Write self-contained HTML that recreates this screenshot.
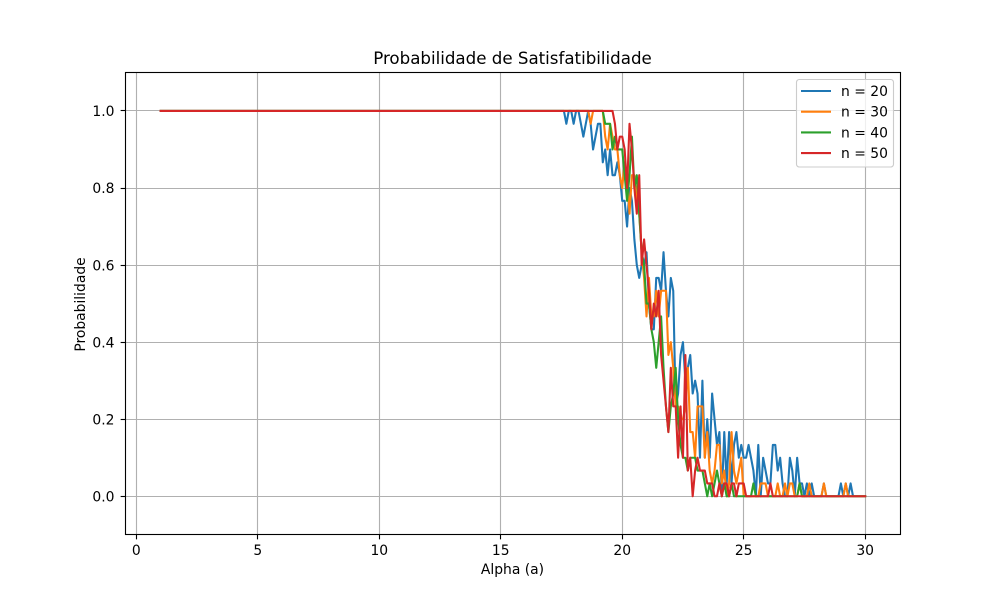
<!DOCTYPE html>
<html>
<head>
<meta charset="utf-8">
<title>Probabilidade de Satisfatibilidade</title>
<style>
html,body{margin:0;padding:0;background:#fff;}
svg{display:block;font-family:"DejaVu Sans","Liberation Sans",sans-serif;}
</style>
</head>
<body>
<svg id="chart" xmlns="http://www.w3.org/2000/svg" width="1000" height="600" viewBox="0 0 1000 600"></svg>
<script>
// Data: satisfied runs out of 30 per alpha, starting at alpha = 17.5 in steps of 0.1.
const firstAlpha = 1;
const detailStartAlpha = 17.5;
const alphaStep = 0.1;
const lastAlpha = 30;
const runsPerPoint = 30;
const xTicks = [0, 5, 10, 15, 20, 25, 30];
const yTicks = [0.0, 0.2, 0.4, 0.6, 0.8, 1.0];
const seriesNames = ["n = 20", "n = 30", "n = 40", "n = 50"];
const seriesColors = ["#1f77b4", "#ff7f0e", "#2ca02c", "#d62728"];
const countsN20 = [30,30,29,30,30,29,30,30,29,28,29,30,29,27,28,29,29,26,27,25,27,25,25,26,25,23,23,21,24,23,20,18,17,18,18,19,15,13,13,17,17,16,19,16,14,17,16,7,8,11,12,9,10,11,8,9,8,3,9,3,6,3,8,6,4,5,0,5,1,5,1,4,5,3,4,3,3,4,3,2,0,4,0,3,2,1,1,4,4,2,3,1,0,0,3,2,0,3,1,1,0,1,0,1,0,0,0,0,1,0,0,0,0,0,0,1,0,1,0,1,0,0,0,0,0,0];
const countsN30 = [30,30,30,30,30,30,30,30,30,30,30,30,29,30,30,30,30,30,28,27,29,28,27,27,25,24,26,25,22,25,25,23,22,19,17,14,17,14,14,16,14,16,16,16,11,12,10,7,7,6,6,7,10,5,5,3,7,7,7,3,5,2,1,2,4,4,1,2,0,1,5,2,1,2,3,0,0,0,0,0,0,0,1,1,1,0,0,0,0,1,0,0,1,0,1,1,0,0,1,0,0,0,1,0,0,0,0,0,1,0,0,0,0,0,0,0,0,1,0,0,0,0,0,0,0,0];
const countsN40 = [30,30,30,30,30,30,30,30,30,30,30,30,30,30,30,30,30,30,29,29,29,27,28,27,27,27,25,23,25,28,24,25,22,19,18,15,15,13,12,10,12,14,10,7,5,7,8,10,6,4,3,3,2,3,3,3,2,2,2,1,0,1,0,1,2,1,0,1,0,0,1,0,0,0,0,0,0,0,0,1,0,0,0,0,0,0,0,0,0,0,0,0,0,0,0,0,0,0,1,0,0,0,0,0,0,0,0,0,0,0,0,0,0,0,0,0,0,0,0,0,0,0,0,0,0,0];
const countsN50 = [30,30,30,30,30,30,30,30,30,30,30,30,30,30,30,30,30,30,30,30,30,30,29,27,28,28,27,24,29,27,24,22,25,18,20,18,16,13,15,14,16,11,9,7,5,10,7,7,3,7,3,11,2,3,0,2,3,2,2,2,1,1,1,0,0,1,0,1,1,0,1,1,0,1,1,1,0,0,0,0,0,0,0,0,0,0,1,0,0,0,0,0,0,0,0,0,0,0,0,0,0,0,0,0,0,0,0,0,0,0,0,0,0,0,0,0,0,0,0,0,0,0,0,0,0,0];
const allCounts = [countsN20, countsN30, countsN40, countsN50];

const NS = "http://www.w3.org/2000/svg";
const svg = document.getElementById("chart");
const plot = {left:125.4, right:900.4, top:72.4, bottom:534.8};
const frameBox = {left:125.5, right:900.5, top:72.5, bottom:534.5};
const xDomain = [-0.45, 31.45];
const yDomain = [-0.1, 1.1];
function xScale(v){ return plot.left + (v - xDomain[0]) / (xDomain[1] - xDomain[0]) * (plot.right - plot.left); }
function yScale(v){ return plot.bottom - (v - yDomain[0]) / (yDomain[1] - yDomain[0]) * (plot.bottom - plot.top); }
function snap(p){ return Math.floor(p + 0.001) + 0.5; }
function make(tag, attrs, text){
  const e = document.createElementNS(NS, tag);
  for (const k in attrs) e.setAttribute(k, attrs[k]);
  if (text !== undefined) e.textContent = text;
  svg.appendChild(e);
  return e;
}
const bg = make("rect", {x:0, y:0, width:1000, height:600, fill:"#fff"});



// grid
xTicks.forEach(function(t){
  const g = make("line", {x1:snap(xScale(t)), x2:snap(xScale(t)), y1:frameBox.top, y2:frameBox.bottom, stroke:"#b0b0b0", "stroke-width":1.11});
  
  
});
yTicks.forEach(function(t){
  const g = make("line", {x1:frameBox.left, x2:frameBox.right, y1:snap(yScale(t)), y2:snap(yScale(t)), stroke:"#b0b0b0", "stroke-width":1.11});
  
  
});

// series
allCounts.forEach(function(counts, s){
  const pts = [[firstAlpha, 1]];
  counts.forEach(function(c, i){ pts.push([detailStartAlpha + i * alphaStep, c / runsPerPoint]); });
  const d = pts.map(function(p){ return xScale(p[0]).toFixed(2) + "," + yScale(p[1]).toFixed(2); }).join(" ");
  const line = make("polyline", {points:d, fill:"none", stroke:seriesColors[s], "stroke-width":2.08, "stroke-linejoin":"round", "stroke-linecap":"square"});
  
  
});

// spines
const frame = make("rect", {x:frameBox.left, y:frameBox.top, width:frameBox.right-frameBox.left, height:frameBox.bottom-frameBox.top, fill:"none", stroke:"#000", "stroke-width":1.11});



// ticks + labels
xTicks.forEach(function(t){
  const m = make("line", {x1:snap(xScale(t)), x2:snap(xScale(t)), y1:frameBox.bottom, y2:frameBox.bottom+4.86, stroke:"#000", "stroke-width":1.11});
  
  
  const l = make("text", {x:xScale(t), y:555, "font-size":13.89, "text-anchor":"middle", fill:"#000"}, String(t));
  
  
});
yTicks.forEach(function(t){
  const m = make("line", {x1:frameBox.left-4.86, x2:frameBox.left, y1:snap(yScale(t)), y2:snap(yScale(t)), stroke:"#000", "stroke-width":1.11});
  
  
  const l = make("text", {x:114.5, y:yScale(t)+5.2, "font-size":13.89, "text-anchor":"end", fill:"#000"}, t.toFixed(1));
  
  
});

const title = make("text", {x:512.5, y:64, "font-size":16.67, "text-anchor":"middle", fill:"#000"}, "Probabilidade de Satisfatibilidade");


const xTitle = make("text", {x:512.5, y:574, "font-size":13.89, "text-anchor":"middle", fill:"#000"}, "Alpha (a)");


const yTitle = make("text", {x:0, y:0, "font-size":13.89, "text-anchor":"middle", fill:"#000", transform:"translate(85,304.5) rotate(-90)"}, "Probabilidade");



// legend
const legendBox = make("rect", {x:796.5, y:79.5, width:97, height:87.5, rx:2.8, ry:2.8, fill:"#fff", "fill-opacity":0.8, stroke:"#cccccc", "stroke-width":1.11});


seriesNames.forEach(function(name, i){
  const y = 91 + i * 20.7;
  const sw = make("line", {x1:801, x2:831, y1:y, y2:y, stroke:seriesColors[i], "stroke-width":2.08});
  
  
  const lt = make("text", {x:841, y:y+5, "font-size":13.89, fill:"#000"}, name);
  
  
});
</script>
</body>
</html>
